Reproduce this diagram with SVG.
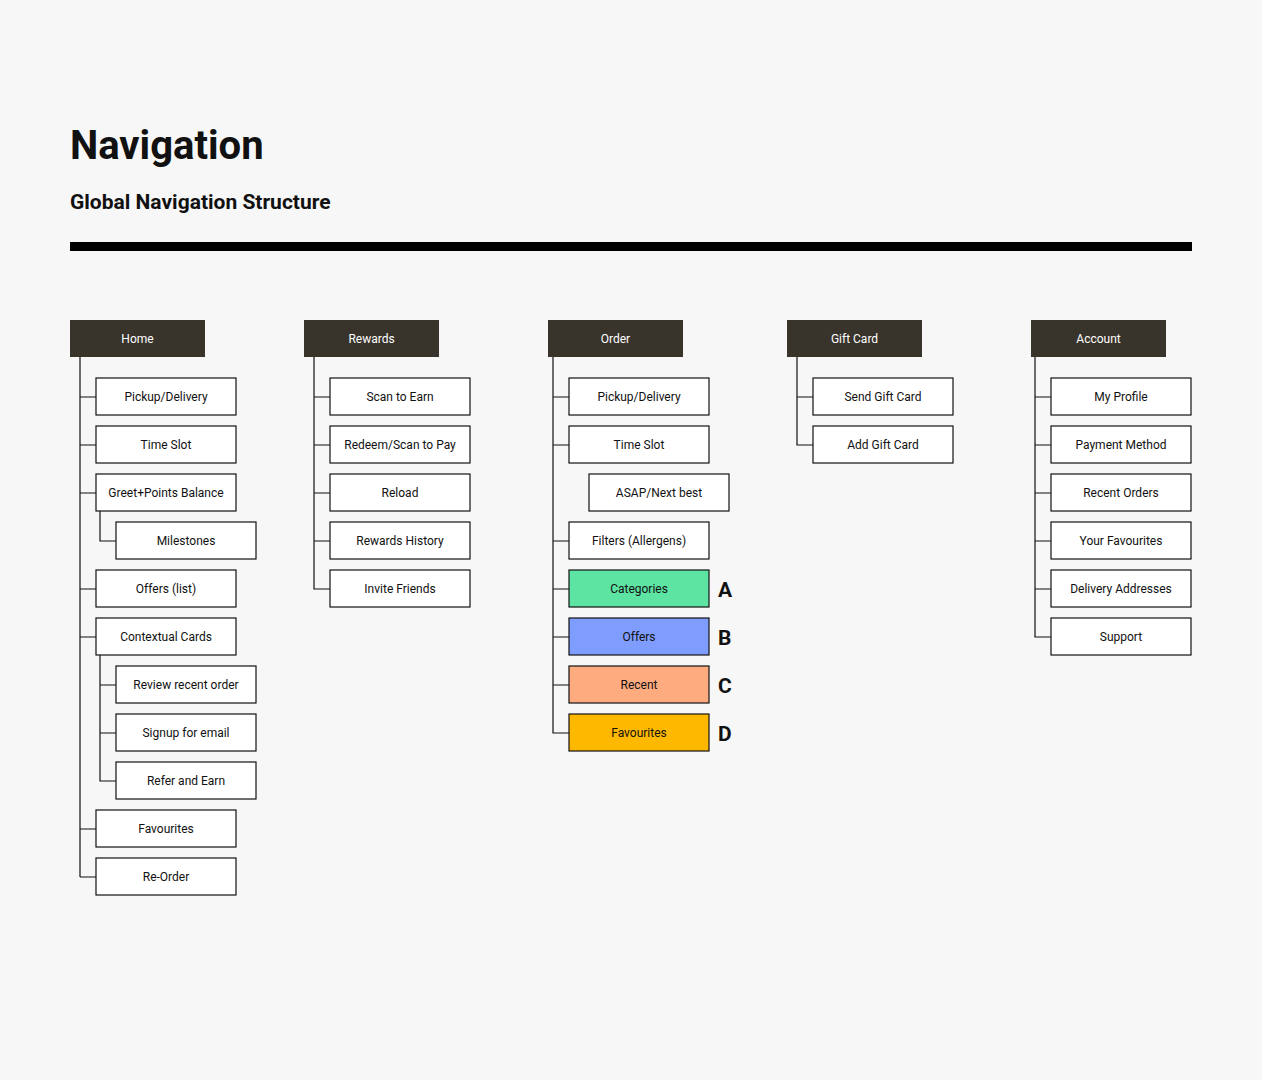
<svg xmlns="http://www.w3.org/2000/svg" width="1262" height="1080" viewBox="0 0 1262 1080">
<style>
text{font-family:Roboto,"Liberation Sans",sans-serif;fill:#111}
.h rect{fill:#38332b}
.h text{fill:#fff;font-size:12px;text-anchor:middle}
.n rect{fill:#fff;stroke:#111;stroke-width:1.2}
.n text{font-size:12px;text-anchor:middle}
.c path{stroke:#111;stroke-width:1.2;fill:none}
.l{font-size:21px;font-weight:bold}
</style>
<rect width="1262" height="1080" fill="#f7f7f7"/>
<text x="70" y="159" font-size="40" font-weight="bold">Navigation</text>
<text x="70" y="209" font-size="21" font-weight="bold">Global Navigation Structure</text>
<rect x="70" y="242" width="1122" height="9" fill="#000"/>
<g class="c">
<path d="M80 357V877M80 397H96M80 445H96M80 493H96M80 589H96M80 637H96M80 829H96M80 877H96M100 511V541H116M100 655V781H116M100 685H116M100 733H116"/>
<path d="M314 357V589H330M314 397H330M314 445H330M314 493H330M314 541H330"/>
<path d="M553 357V733H569M553 397H569M553 445H569M553 541H569M553 589H569M553 637H569M553 685H569"/>
<path d="M797 357V445H813M797 397H813"/>
<path d="M1035 357V637H1051M1035 397H1051M1035 445H1051M1035 493H1051M1035 541H1051M1035 589H1051"/>
</g>
<g id="home" class="h"><rect x="70" y="320" width="135" height="37"/><text x="137.5" y="343">Home</text></g>
<g id="rewards" class="h"><rect x="304" y="320" width="135" height="37"/><text x="371.5" y="343">Rewards</text></g>
<g id="order" class="h"><rect x="548" y="320" width="135" height="37"/><text x="615.5" y="343">Order</text></g>
<g id="giftcard" class="h"><rect x="787" y="320" width="135" height="37"/><text x="854.5" y="343">Gift Card</text></g>
<g id="account" class="h"><rect x="1031" y="320" width="135" height="37"/><text x="1098.5" y="343">Account</text></g>

<g id="h1" class="n"><rect x="96" y="378" width="140" height="37"/><text x="166" y="401">Pickup/Delivery</text></g>
<g id="h2" class="n"><rect x="96" y="426" width="140" height="37"/><text x="166" y="449">Time Slot</text></g>
<g id="h3" class="n"><rect x="96" y="474" width="140" height="37"/><text x="166" y="497">Greet+Points Balance</text></g>
<g id="h4" class="n"><rect x="116" y="522" width="140" height="37"/><text x="186" y="545">Milestones</text></g>
<g id="h5" class="n"><rect x="96" y="570" width="140" height="37"/><text x="166" y="593">Offers (list)</text></g>
<g id="h6" class="n"><rect x="96" y="618" width="140" height="37"/><text x="166" y="641">Contextual Cards</text></g>
<g id="h7" class="n"><rect x="116" y="666" width="140" height="37"/><text x="186" y="689">Review recent order</text></g>
<g id="h8" class="n"><rect x="116" y="714" width="140" height="37"/><text x="186" y="737">Signup for email</text></g>
<g id="h9" class="n"><rect x="116" y="762" width="140" height="37"/><text x="186" y="785">Refer and Earn</text></g>
<g id="h10" class="n"><rect x="96" y="810" width="140" height="37"/><text x="166" y="833">Favourites</text></g>
<g id="h11" class="n"><rect x="96" y="858" width="140" height="37"/><text x="166" y="881">Re-Order</text></g>

<g id="r1" class="n"><rect x="330" y="378" width="140" height="37"/><text x="400" y="401">Scan to Earn</text></g>
<g id="r2" class="n"><rect x="330" y="426" width="140" height="37"/><text x="400" y="449">Redeem/Scan to Pay</text></g>
<g id="r3" class="n"><rect x="330" y="474" width="140" height="37"/><text x="400" y="497">Reload</text></g>
<g id="r4" class="n"><rect x="330" y="522" width="140" height="37"/><text x="400" y="545">Rewards History</text></g>
<g id="r5" class="n"><rect x="330" y="570" width="140" height="37"/><text x="400" y="593">Invite Friends</text></g>

<g id="o1" class="n"><rect x="569" y="378" width="140" height="37"/><text x="639" y="401">Pickup/Delivery</text></g>
<g id="o2" class="n"><rect x="569" y="426" width="140" height="37"/><text x="639" y="449">Time Slot</text></g>
<g id="o3" class="n"><rect x="589" y="474" width="140" height="37"/><text x="659" y="497">ASAP/Next best</text></g>
<g id="o4" class="n"><rect x="569" y="522" width="140" height="37"/><text x="639" y="545">Filters (Allergens)</text></g>
<g id="o5" class="n"><rect x="569" y="570" width="140" height="37" style="fill:#5de3a2"/><text x="639" y="593">Categories</text></g>
<g id="o6" class="n"><rect x="569" y="618" width="140" height="37" style="fill:#7f9cff"/><text x="639" y="641">Offers</text></g>
<g id="o7" class="n"><rect x="569" y="666" width="140" height="37" style="fill:#ffab80"/><text x="639" y="689">Recent</text></g>
<g id="o8" class="n"><rect x="569" y="714" width="140" height="37" style="fill:#ffb800"/><text x="639" y="737">Favourites</text></g>
<text class="l" x="718" y="597">A</text>
<text class="l" x="718" y="645">B</text>
<text class="l" x="718" y="693">C</text>
<text class="l" x="718" y="741">D</text>

<g id="g1" class="n"><rect x="813" y="378" width="140" height="37"/><text x="883" y="401">Send Gift Card</text></g>
<g id="g2" class="n"><rect x="813" y="426" width="140" height="37"/><text x="883" y="449">Add Gift Card</text></g>

<g id="a1" class="n"><rect x="1051" y="378" width="140" height="37"/><text x="1121" y="401">My Profile</text></g>
<g id="a2" class="n"><rect x="1051" y="426" width="140" height="37"/><text x="1121" y="449">Payment Method</text></g>
<g id="a3" class="n"><rect x="1051" y="474" width="140" height="37"/><text x="1121" y="497">Recent Orders</text></g>
<g id="a4" class="n"><rect x="1051" y="522" width="140" height="37"/><text x="1121" y="545">Your Favourites</text></g>
<g id="a5" class="n"><rect x="1051" y="570" width="140" height="37"/><text x="1121" y="593">Delivery Addresses</text></g>
<g id="a6" class="n"><rect x="1051" y="618" width="140" height="37"/><text x="1121" y="641">Support</text></g>
</svg>
